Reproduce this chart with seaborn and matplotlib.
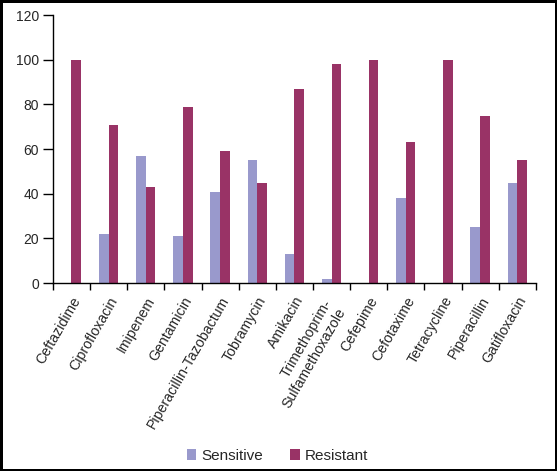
import numpy as np
import pandas as pd
import matplotlib
matplotlib.use("Agg")
import matplotlib.pyplot as plt
import matplotlib.transforms as mtransforms
import seaborn as sns

# antibiotic names and susceptibility (%)
drugs = ["Ceftazidime", "Ciprofloxacin", "Imipenem", "Gentamicin",
         "Piperacillin-Tazobactum", "Tobramycin", "Amikacin",
         "Trimethoprim-\nSulfamethoxazole", "Cefepime", "Cefotaxime",
         "Tetracycline", "Piperacillin", "Gatifloxacin"]
sensitive = [0, 22, 57, 21, 41, 55, 13, 2, 0, 38, 0, 25, 45]
resistant = [100, 71, 43, 79, 59, 45, 87, 98, 100, 63, 100, 75, 55]
series = ["Sensitive", "Resistant"]
colors = ["#9999CC", "#993366"]

df = pd.DataFrame({
    "drug": drugs * 2,
    "value": sensitive + resistant,
    "status": [series[0]] * len(drugs) + [series[1]] * len(drugs),
})

sns.set_style("white")
plt.rcParams["font.family"] = ["Liberation Sans", "DejaVu Sans"]

fig = plt.figure(figsize=(5.57, 4.71), dpi=100, edgecolor="black", linewidth=2.2)
ax = fig.add_axes([0.095, 0.399, 0.867, 0.569])

sns.barplot(data=df, x="drug", y="value", hue="status", palette=colors,
            width=0.52, saturation=1, linewidth=0, ax=ax, legend=True)

ax.set_ylim(0, 120)
ax.set_yticks(np.arange(0, 121, 20))
ax.set_xlim(-0.5, len(drugs) - 0.5)
ax.set_xlabel("")
ax.set_ylabel("")
sns.despine(ax=ax)
for s in ["left", "bottom"]:
    ax.spines[s].set_color("black")
    ax.spines[s].set_linewidth(1)

# labels hang from the category centre, ticks sit between categories
ax.set_xticks(np.arange(len(drugs)))
ax.set_xticklabels(drugs, rotation=60, ha="right", va="top",
                   rotation_mode="anchor", fontsize=10.2, multialignment="right")
ax.set_xticks(np.arange(len(drugs) + 1) - 0.5, minor=True)
ax.tick_params(axis="x", which="major", length=0, pad=8)
ax.tick_params(axis="x", which="minor", length=5, width=1, color="black",
               direction="out", bottom=True)
ax.tick_params(axis="y", length=7, width=1, color="black", direction="out",
               left=True, labelsize=10, pad=3)

# the two-line label sits a bit further left in the original
for i, lab in enumerate(ax.get_xticklabels()):
    if "\n" in drugs[i]:
        lab.set_transform(lab.get_transform() +
                          mtransforms.ScaledTranslation(-0.09, -0.03, fig.dpi_scale_trans))

ax.legend_.remove()
handles, labels = ax.get_legend_handles_labels()
fig.legend(handles, labels, loc="lower center", bbox_to_anchor=(0.498, -0.012),
           ncol=2, frameon=False, fontsize=11, handlelength=0.65,
           handleheight=0.65, handletextpad=0.3, columnspacing=1.8)

fig.savefig("out.png", dpi=100)
